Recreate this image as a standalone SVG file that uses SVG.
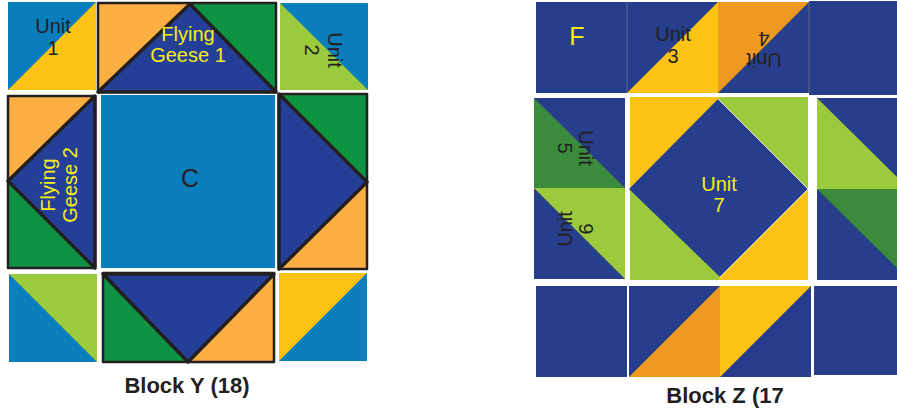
<svg xmlns="http://www.w3.org/2000/svg" width="897" height="410" viewBox="0 0 897 410">
<style>
.bl{fill:#0a7dbc}.ye{fill:#fdc314}.or{fill:#fbae42}.gr{fill:#0e9343}.nv{fill:#243f98}.lg{fill:#9bcb3c}.nz{fill:#263e8c}.dg{fill:#3c8a3b}.oz{fill:#ef991f}
.ol{fill:none;stroke:#231f20;stroke-width:2.5;stroke-linejoin:round}
.ot{stroke:#231f20;stroke-width:3.5;stroke-linejoin:round}
.lab{font-family:"Liberation Sans",Arial,sans-serif;font-size:20px;fill:#231f20;text-anchor:middle}
.yl{fill:#f7ec13}
.big{font-size:25px}
.title{font-family:"Liberation Sans",Arial,sans-serif;font-size:22px;font-weight:bold;fill:#231f20;text-anchor:middle}
.sep{stroke:#777;stroke-width:0.8}
</style>
<rect width="897" height="410" fill="#fff"/>
<g id="blockY">
  <g id="unit1">
    <rect class="bl" x="8" y="2" width="88" height="88"/>
    <polygon class="ye" points="8,90 96,2 96,90"/>
    <text class="lab" x="53" y="33">Unit</text>
    <text class="lab" x="53" y="55">1</text>
  </g>
  <g id="flyingGeese1">
    <rect class="or" x="98" y="3" width="92" height="89"/>
    <rect class="gr" x="190" y="3" width="86" height="89"/>
    <polygon class="nv ot" points="98,92 190,4 276,92"/>
    <rect class="ol" x="98" y="3" width="178" height="89"/>
    <text class="lab yl" x="188" y="41">Flying</text>
    <text class="lab yl" x="188" y="62">Geese 1</text>
  </g>
  <g id="unit2">
    <rect class="lg" x="280" y="3" width="88" height="87"/>
    <polygon class="bl" points="280,3 368,3 368,90"/>
    <g transform="translate(328,50) rotate(90)">
      <text class="lab" x="0" y="0">Unit</text>
      <text class="lab" x="0" y="23">2</text>
    </g>
  </g>
  <g id="flyingGeese2">
    <rect class="or" x="8" y="96" width="87" height="85"/>
    <rect class="gr" x="8" y="181" width="87" height="87"/>
    <polygon class="nv ot" points="95,96 8,181 95,268"/>
    <rect class="ol" x="8" y="96" width="87" height="172"/>
    <g transform="translate(55,185) rotate(-90)">
      <text class="lab yl" x="0" y="0">Flying</text>
      <text class="lab yl" x="0" y="22">Geese 2</text>
    </g>
  </g>
  <g id="centerC">
    <rect class="bl" x="101" y="95" width="174" height="173"/>
    <text class="lab big" x="190" y="187">C</text>
  </g>
  <g id="geeseRight">
    <rect class="gr" x="279" y="94" width="88" height="88"/>
    <rect class="or" x="279" y="182" width="88" height="87"/>
    <polygon class="nv ot" points="279,94 367,182 279,269"/>
    <rect class="ol" x="279" y="94" width="88" height="175"/>
  </g>
  <g id="cornerBL">
    <rect class="bl" x="9" y="274" width="88" height="88"/>
    <polygon class="lg" points="9,274 97,274 97,362"/>
  </g>
  <g id="geeseBottom">
    <rect class="gr" x="103" y="273" width="85" height="89"/>
    <rect class="or" x="188" y="273" width="86" height="89"/>
    <polygon class="nv ot" points="103,274 274,274 188,362"/>
    <rect class="ol" x="103" y="273" width="171" height="89"/>
  </g>
  <g id="cornerBR">
    <rect class="bl" x="279" y="273" width="88" height="88"/>
    <polygon class="ye" points="279,273 367,273 279,361"/>
  </g>
  <text class="title" x="187" y="393">Block Y (18)</text>
</g>
<g id="blockZ">
  <g id="squareF">
    <rect class="nz" x="536" y="2" width="91" height="91"/>
    <text class="lab yl big" x="577" y="45">F</text>
  </g>
  <g id="unit3">
    <rect class="nz" x="627" y="2" width="91" height="91"/>
    <polygon class="ye" points="627,93 718,2 718,93"/>
    <text class="lab" x="673" y="41">Unit</text>
    <text class="lab" x="673" y="63">3</text>
  </g>
  <g id="unit4">
    <rect class="nz" x="718" y="2" width="91" height="91"/>
    <polygon class="oz" points="718,2 809,2 718,93"/>
    <g transform="translate(764,53) rotate(180)">
      <text class="lab" x="0" y="0">Unit</text>
      <text class="lab" x="0" y="21">4</text>
    </g>
  </g>
  <g id="cornerTR">
    <rect class="nz" x="809" y="1" width="88" height="94"/>
  </g>
  <line class="sep" x1="627" y1="2" x2="627" y2="93"/>
  <line class="sep" x1="809" y1="2" x2="809" y2="93"/>
  <g id="unit5">
    <rect class="nz" x="534" y="98" width="91" height="90"/>
    <polygon class="dg" points="534,98 534,188 625,188"/>
    <g transform="translate(579,148) rotate(90)">
      <text class="lab" x="0" y="0">Unit</text>
      <text class="lab" x="0" y="21">5</text>
    </g>
  </g>
  <g id="unit6">
    <rect class="nz" x="534" y="188" width="91" height="91"/>
    <polygon class="lg" points="534,188 625,188 625,279"/>
    <g transform="translate(572,229) rotate(-90)">
      <text class="lab" x="0" y="0">Unit</text>
      <text class="lab" x="0" y="21">6</text>
    </g>
  </g>
  <g id="unit7">
    <rect class="lg" x="630" y="97" width="178" height="183"/>
    <rect class="ye" x="630" y="97" width="89" height="92"/>
    <rect class="ye" x="719" y="189" width="89" height="91"/>
    <polygon class="nz" points="718,99 808,189 720,277 629,189"/>
    <polyline points="718,99 808,189 720,277" fill="none" stroke="#fff" stroke-width="0.8"/>
    <text class="lab yl" x="719" y="191">Unit</text>
    <text class="lab yl" x="719" y="212">7</text>
  </g>
  <g id="rightColumn">
    <rect class="nz" x="817" y="98" width="80" height="91"/>
    <polygon class="lg" points="817,98 897,177 897,189 817,189"/>
    <rect class="nz" x="817" y="189" width="80" height="91"/>
    <polygon class="dg" points="817,189 897,189 897,268"/>
  </g>
  <g id="cornerBL2">
    <rect class="nz" x="536" y="286" width="91" height="91"/>
  </g>
  <g id="bottomLeftHST">
    <rect class="nz" x="629" y="286" width="91" height="91"/>
    <polygon class="oz" points="629,377 720,286 720,377"/>
  </g>
  <g id="bottomRightHST">
    <rect class="ye" x="720" y="286" width="91" height="91"/>
    <polygon class="nz" points="720,377 811,286 811,377"/>
  </g>
  <g id="cornerBR2">
    <rect class="nz" x="814" y="286" width="83" height="89"/>
  </g>
  <text class="title" x="725" y="403">Block Z (17</text>
</g>
<g id="connectors"/>
</svg>
